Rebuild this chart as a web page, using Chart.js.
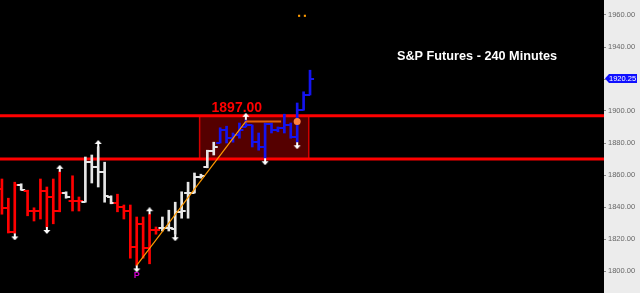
<!DOCTYPE html>
<html>
<head>
<meta charset="utf-8">
<script src="https://cdn.jsdelivr.net/npm/chart.js@4.4.1/dist/chart.umd.min.js"></script>
<style>
  html, body { margin: 0; padding: 0; background: #000; }
  #wrap { width: 640px; height: 293px; }
</style>
</head>
<body>
<div id="wrap"><canvas id="myChart" width="640" height="293"></canvas></div>
<script>
// 240 minute bars, index 0 = leftmost bar
let opens  = [1851, 1839.5, 1824.5, 1853.75, 1850, 1837.5, 1837.5, 1850, 1846.25, 1837.5,
              1848.75, 1843.75, 1843.75, 1843.25, 1868, 1865, 1862, 1846.25, 1842.5, 1840,
              1837.5, 1815, 1829.5, 1814.5, 1825.5, 1827, 1827, 1826.25, 1837, 1848.75,
              1848.75, 1858.75, 1865, 1875, 1880, 1888, 1883, 1885, 1890, 1891.25,
              1880.5, 1877.5, 1892, 1888, 1889.5, 1891.25, 1883.75, 1900.5, 1910];
let highs  = [1857.5, 1845.5, 1855.5, 1854.5, 1850.5, 1839.5, 1857.5, 1852.5, 1857.5, 1862,
              1849.5, 1859.5, 1846.25, 1871.25, 1872.5, 1877.5, 1868, 1847, 1848, 1841.25,
              1841.25, 1833.75, 1833.75, 1835.5, 1827.5, 1833.75, 1838, 1843, 1849.5, 1855.5,
              1861.25, 1860.5, 1875.5, 1880.5, 1889.5, 1890.5, 1886.25, 1892.5, 1894.5, 1891.25,
              1886.25, 1892.5, 1892.5, 1890, 1898, 1892.5, 1905, 1912, 1925.5];
let lows   = [1835.5, 1823.75, 1823.5, 1850.5, 1834.5, 1831.25, 1832.5, 1827.5, 1829.5, 1837,
              1845.5, 1837.5, 1837.5, 1843, 1855, 1852.5, 1843, 1842, 1837, 1832.5,
              1808, 1803.5, 1808, 1804.5, 1823, 1825, 1825, 1823, 1833, 1833,
              1848.75, 1858, 1864.5, 1872.5, 1880, 1880, 1880.5, 1883, 1890, 1877.5,
              1875.5, 1870.5, 1886.25, 1887, 1886.25, 1883, 1880.5, 1900.5, 1910];
let closes = [1839.5, 1824.5, 1853.75, 1850.5, 1837.5, 1837.5, 1850, 1846.25, 1837.5, 1848.75,
              1846.25, 1843.75, 1843.75, 1868, 1865, 1862, 1847, 1842.5, 1840, 1837.5,
              1815, 1829.5, 1814.5, 1825.5, 1825.5, 1827, 1827, 1837, 1837.5, 1848.75,
              1858.75, 1859.5, 1875, 1877.5, 1888, 1883, 1885, 1888, 1891.25, 1880.5,
              1877.5, 1892, 1888, 1889.5, 1891.25, 1883.75, 1900.5, 1910, 1920.25];
// trend state per bar: R = down, W = neutral, B = up
let trend = ["R","R","R","W","R","R","R","R","R","R","W","R","R","W","W","W","W","W",
             "R","R","R","R","R","R","R","W","W","W","W","W","W","W","W","W",
             "B","B","B","B","B","B","B","B","B","B","B","B","B","B","B"];

let upArrowBars   = [9, 15, 23, 38];
let downArrowBars = [2, 7, 21, 27, 41, 46];
let pivotBar = 21;

let levels = [1897, 1870];
let levelLabel = "1897.00";
let boxFrom = 30.8, boxTo = 47.8;

let trendX = [21, 38];
let trendY = [1803.5, 1893.5];
let flatX = [38, 43.5];
let targetX = 46, targetY = 1893.5;
let topMarksX = [46.3, 47.2], topMarksY = 1959.5;

let yTicks = [1800, 1820, 1840, 1860, 1880, 1900, 1920, 1940, 1960];
let title = "S&P Futures - 240 Minutes";

let colorOf = { R: "#ff0000", W: "#e6e6e6", B: "#1414f0" };

function makeTick(color, side) {
  let c = document.createElement("canvas");
  c.width = 10; c.height = 2;
  let g = c.getContext("2d");
  g.fillStyle = color;
  if (side == "left") g.fillRect(1, 0, 4, 2);
  else g.fillRect(5, 0, 4, 2);
  return c;
}

function makeArrow(dir) {
  let c = document.createElement("canvas");
  c.width = 8; c.height = 14;
  let g = c.getContext("2d");
  g.fillStyle = "#ffffff";
  g.beginPath();
  if (dir == "up") {
    g.moveTo(4, 0); g.lineTo(0.5, 4); g.lineTo(7.5, 4);
    g.closePath(); g.fill();
    g.fillRect(3, 4, 2, 3);
  } else {
    g.moveTo(4, 14); g.lineTo(0.5, 10); g.lineTo(7.5, 10);
    g.closePath(); g.fill();
    g.fillRect(3, 7, 2, 3);
  }
  return c;
}

let tickImg = {};
for (let k in colorOf) {
  tickImg[k] = { left: makeTick(colorOf[k], "left"), right: makeTick(colorOf[k], "right") };
}
let upArrow = makeArrow("up");
let downArrow = makeArrow("down");

let yMin = 1786.25, yMax = 1969.375;

let extras = {
  id: "extras",
  beforeDraw(chart) {
    let c = chart.ctx, a = chart.chartArea;
    c.save();
    c.fillStyle = "#000";
    c.fillRect(0, 0, chart.width, chart.height);
    c.fillStyle = "#ececec";
    c.fillRect(a.right, 0, chart.width - a.right, chart.height);
    c.restore();
  },
  beforeDatasetsDraw(chart) {
    let c = chart.ctx, xs = chart.scales.x, ys = chart.scales.y;
    let x1 = xs.getPixelForValue(boxFrom), x2 = xs.getPixelForValue(boxTo);
    let y1 = ys.getPixelForValue(levels[0]), y2 = ys.getPixelForValue(levels[1]);
    c.save();
    c.fillStyle = "#550000";
    c.fillRect(x1, y1, x2 - x1, y2 - y1);
    c.strokeStyle = "#d00000";
    c.lineWidth = 1.5;
    c.beginPath();
    c.moveTo(x1, y1); c.lineTo(x1, y2);
    c.moveTo(x2, y1); c.lineTo(x2, y2);
    c.stroke();
    c.restore();
  },
  afterDatasetsDraw(chart) {
    let c = chart.ctx, xs = chart.scales.x, ys = chart.scales.y, a = chart.chartArea;
    c.save();
    // level label
    c.fillStyle = "#ff0000";
    c.font = "bold 14px 'Liberation Sans', Arial, sans-serif";
    c.textAlign = "center";
    c.textBaseline = "bottom";
    c.fillText(levelLabel, xs.getPixelForValue(36.6), ys.getPixelForValue(levels[0]) - 1);
    // pivot letter
    c.fillStyle = "#cc00cc";
    c.font = "bold 9px 'Liberation Sans', Arial, sans-serif";
    c.textBaseline = "top";
    c.fillText("P", xs.getPixelForValue(pivotBar), ys.getPixelForValue(lows[pivotBar]) + 6);
    // title
    c.fillStyle = "#ffffff";
    c.font = "bold 12.7px 'Liberation Sans', Arial, sans-serif";
    c.textAlign = "left";
    c.textBaseline = "middle";
    c.fillText(title, 397, 56);
    c.restore();
  },
  afterDraw(chart) {
    let c = chart.ctx, ys = chart.scales.y, a = chart.chartArea;
    let last = closes[closes.length - 1];
    let y = ys.getPixelForValue(last);
    c.save();
    c.fillStyle = "#1010ff";
    c.beginPath();
    c.moveTo(a.right + 1, y);
    c.lineTo(a.right + 5, y - 4.5);
    c.lineTo(637, y - 4.5);
    c.lineTo(637, y + 4.5);
    c.lineTo(a.right + 5, y + 4.5);
    c.closePath();
    c.fill();
    c.fillStyle = "#ffffff";
    c.font = "7.5px 'Liberation Sans', Arial, sans-serif";
    c.textAlign = "left";
    c.textBaseline = "middle";
    c.fillText(last.toFixed(2), a.right + 5, y + 0.5);
    c.restore();
  }
};

let ctx = document.getElementById("myChart").getContext("2d");

let myChart = new Chart(ctx, {
  type: "bar",
  data: {
    datasets: [
      {
        type: "scatter",
        data: topMarksX.map(x => ({ x: x, y: topMarksY })),
        pointStyle: "rect",
        pointRadius: 1.5,
        backgroundColor: "#ff9a00",
        borderWidth: 0,
        order: 1
      },
      {
        type: "scatter",
        data: [{ x: targetX, y: targetY }],
        pointRadius: 3.5,
        backgroundColor: "#ff8040",
        borderWidth: 0,
        order: 1
      },
      {
        type: "scatter",
        data: upArrowBars.map(i => ({ x: i, y: highs[i] })),
        pointStyle: upArrow,
        pointRadius: 3,
        order: 2
      },
      {
        type: "scatter",
        data: downArrowBars.map(i => ({ x: i, y: lows[i] })),
        pointStyle: downArrow,
        pointRadius: 3,
        order: 2
      },
      {
        type: "line",
        data: trendX.map((x, k) => ({ x: x, y: trendY[k] })),
        borderColor: "#ff9900",
        borderWidth: 1.2,
        pointRadius: 0,
        order: 3
      },
      {
        type: "line",
        data: flatX.map(x => ({ x: x, y: trendY[1] })),
        borderColor: "#e0600a",
        borderWidth: 2,
        pointRadius: 0,
        order: 3
      },
      {
        type: "scatter",
        data: opens.map((o, i) => ({ x: i, y: o })),
        pointStyle: trend.map(t => tickImg[t].left),
        pointRadius: 3,
        order: 4
      },
      {
        type: "scatter",
        data: closes.map((cl, i) => ({ x: i, y: cl })),
        pointStyle: trend.map(t => tickImg[t].right),
        pointRadius: 3,
        order: 4
      },
      {
        type: "bar",
        data: highs.map((h, i) => ({ x: i, y: [lows[i], h] })),
        backgroundColor: trend.map(t => colorOf[t]),
        borderWidth: 0,
        barThickness: 2,
        grouped: false,
        order: 5
      },
      {
        type: "line",
        data: [{ x: -5, y: levels[0] }, { x: 120, y: levels[0] }],
        borderColor: "#ff0000",
        borderWidth: 3,
        pointRadius: 0,
        order: 6
      },
      {
        type: "line",
        data: [{ x: -5, y: levels[1] }, { x: 120, y: levels[1] }],
        borderColor: "#ff0000",
        borderWidth: 3,
        pointRadius: 0,
        order: 6
      }
    ]
  },
  options: {
    responsive: false,
    animation: false,
    devicePixelRatio: 1,
    events: [],
    layout: { padding: 0, autoPadding: false },
    plugins: {
      legend: { display: false },
      tooltip: { enabled: false },
      title: { display: false }
    },
    scales: {
      x: {
        type: "linear",
        display: false,
        min: -0.3,
        max: 93.8,
        offset: false,
        grid: { display: false }
      },
      y: {
        type: "linear",
        position: "right",
        min: yMin,
        max: yMax,
        beginAtZero: false,
        afterFit(scale) {
          scale.width = 36;
          scale.paddingTop = 0;
          scale.paddingBottom = 0;
        },
        afterBuildTicks(scale) { scale.ticks = yTicks.map(v => ({ value: v })); },
        border: { display: false },
        grid: { drawOnChartArea: false, drawTicks: true, tickLength: 2, color: "#888888" },
        ticks: {
          color: "#666666",
          padding: 2,
          font: { size: 7.5, family: "'Liberation Sans', Arial, sans-serif" },
          callback: v => v.toFixed(2)
        }
      }
    }
  },
  plugins: [extras]
});
</script>
</body>
</html>
